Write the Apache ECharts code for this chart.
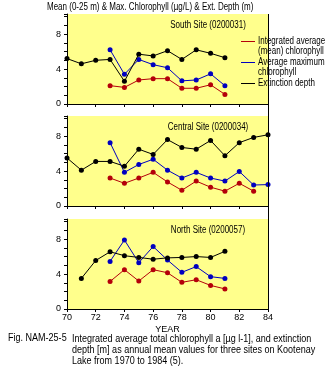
<!DOCTYPE html>
<html>
<head>
<meta charset="utf-8">
<script src="https://cdn.jsdelivr.net/npm/echarts@6/dist/echarts.min.js"></script>
<style>
  html,body{margin:0;padding:0;background:#fff;}
  #chart{width:332px;height:370px;}
</style>
</head>
<body>
<div id="chart"></div>
<script>
  // years on the x axis (19xx)
  var years = [70,71,72,73,74,75,76,77,78,79,80,81,82,83,84];

  // South Site (0200031)
  var southMean  = [null,null,null,2.1,1.9,2.75,2.9,2.9,1.8,1.8,2.2,1.1,null,null,null];
  var southMax   = [null,null,null,6.2,3.4,5.1,4.5,4.15,2.65,2.75,3.45,2.1,null,null,null];
  var southDepth = [5.2,4.6,5.0,5.1,2.6,5.7,5.5,6.1,5.1,6.2,5.8,5.3,null,null,null];

  // Central Site (0200034)
  var centralMean  = [null,null,null,3.2,2.6,3.2,3.85,2.75,1.8,2.85,2.15,1.7,2.6,1.7,null];
  var centralMax   = [null,null,null,7.25,3.85,4.75,5.35,4.1,3.2,3.85,3.2,2.85,3.95,2.4,2.45];
  var centralDepth = [5.5,4.1,5.1,5.1,4.55,6.5,5.9,7.6,6.7,6.5,7.5,5.75,7.25,7.85,8.15];

  // North Site (0200057)
  var northMean  = [null,null,null,3.15,4.5,3.2,4.5,4.15,3.05,3.35,2.7,2.3,null,null,null];
  var northMax   = [null,null,null,5.45,7.9,5.3,7.15,5.6,4.2,4.85,3.7,3.5,null,null,null];
  var northDepth = [null,3.5,5.55,6.55,6.1,5.9,5.7,5.85,5.9,6.0,5.9,6.6,null,null,null];

  var siteNames = ['South Site (0200031)','Central Site (0200034)','North Site (0200057)'];
  var seriesNames = ['Integrated average (mean) chlorophyll','Average maximum chlorophyll','Extinction depth'];
  var legendLines = [['Integrated average','(mean) chlorophyll'],['Average maximum','chlorophyll'],['Extinction depth']];
  var colors = ['#b4000a','#0000c0','#000000'];

  var sites = [
    [southMean, southMax, southDepth],
    [centralMean, centralMax, centralDepth],
    [northMean, northMax, northDepth]
  ];

  var FONT = "'Liberation Sans',Arial,sans-serif";
  var SX = 0.8; // squeeze text, the original uses a narrow bitmap font
  var panelTops = [14, 116, 219];
  var panelH = 90;
  var plotLeft = 67, plotW = 201;

  function pairs(vals){
    var out = [];
    for(var i=0;i<years.length;i++){
      if(vals[i]!=null) out.push([years[i], vals[i]]);
    }
    return out;
  }

  function label(x, y, txt, opt){
    opt = opt || {};
    return {
      type: 'text', x: x, y: y, scaleX: opt.sx || SX, z: 11,
      style: {
        text: txt, fill: '#000',
        font: (opt.size || 10) + 'px ' + FONT,
        align: opt.align || 'left',
        verticalAlign: opt.va || 'middle',
        lineHeight: opt.lh || 10
      }
    };
  }

  var grids=[], xAxes=[], yAxes=[], series=[], graphics=[];

  for(var p=0;p<3;p++){
    grids.push({
      left: plotLeft, top: panelTops[p], width: plotW, height: panelH,
      show: true, backgroundColor: '#ffff8c', borderWidth: 0
    });
    xAxes.push({
      gridIndex: p, type: 'value', min: 70, max: 84, interval: 2,
      axisLine: {lineStyle: {color: '#000', width: 1}},
      axisTick: {show: true, inside: false, length: 3, lineStyle: {color: '#000'}},
      axisLabel: {show: p===2, color: '#000', fontFamily: FONT, fontSize: 9, margin: 4},
      splitLine: {show: false},
      name: p===2 ? 'YEAR' : '',
      nameLocation: 'middle', nameGap: 16,
      nameTextStyle: {color: '#000', fontFamily: FONT, fontSize: 9}
    });
    yAxes.push({
      gridIndex: p, type: 'value', min: 0, max: 10.3, interval: 1,
      axisLine: {show: true, lineStyle: {color: '#000', width: 1}},
      axisTick: {show: true, inside: false, length: 3, lineStyle: {color: '#000'}},
      axisLabel: {
        color: '#000', fontFamily: FONT, fontSize: 9, margin: 6,
        formatter: function(v){ return (v % 4 === 0) ? String(v) : ''; }
      },
      splitLine: {show: false}
    });
    for(var s=0;s<3;s++){
      series.push({
        name: seriesNames[s],
        type: 'line',
        xAxisIndex: p, yAxisIndex: p,
        data: pairs(sites[p][s]),
        symbol: 'circle', symbolSize: 5,
        itemStyle: {color: colors[s]},
        lineStyle: {color: colors[s], width: 1},
        animation: false,
        z: s===2 ? 3 : 2
      });
    }
    // panel title
    graphics.push(label(208, panelTops[p] + 11, siteNames[p], {align: 'center'}));
  }

  // right frame line through all panels
  graphics.push({
    type: 'line',
    shape: {x1: plotLeft + plotW + 0.5, y1: panelTops[0], x2: plotLeft + plotW + 0.5, y2: panelTops[2] + panelH},
    style: {stroke: '#000', lineWidth: 1},
    z: 10
  });

  // legend
  var legY = [41, 62, 83];
  for(var k=0;k<3;k++){
    graphics.push({
      type: 'line',
      shape: {x1: 241, y1: legY[k] + 0.5, x2: 255, y2: legY[k] + 0.5},
      style: {stroke: colors[k], lineWidth: 1}, z: 11
    });
    graphics.push(label(258, legY[k] - 5, legendLines[k].join('\n'), {va: 'top', lh: 10}));
  }

  // top title
  graphics.push(label(47, 7, 'Mean (0-25 m) & Max. Chlorophyll (\u00b5g/L) & Ext. Depth (m)'));

  // caption
  graphics.push(label(8, 338, 'Fig. NAM-25-5', {size: 11, sx: 0.82}));
  graphics.push(label(72, 333,
    'Integrated average total chlorophyll a [\u00b5g l-1], and extinction\n' +
    'depth [m] as annual mean values for three sites on Kootenay\n' +
    'Lake from 1970 to 1984 (5).', {size: 11, sx: 0.82, va: 'top', lh: 11}));

  var myChart = echarts.init(document.getElementById('chart'));
  myChart.setOption({
    animation: false,
    backgroundColor: '#fff',
    grid: grids,
    xAxis: xAxes,
    yAxis: yAxes,
    series: series,
    graphic: graphics
  });
</script>
</body>
</html>
